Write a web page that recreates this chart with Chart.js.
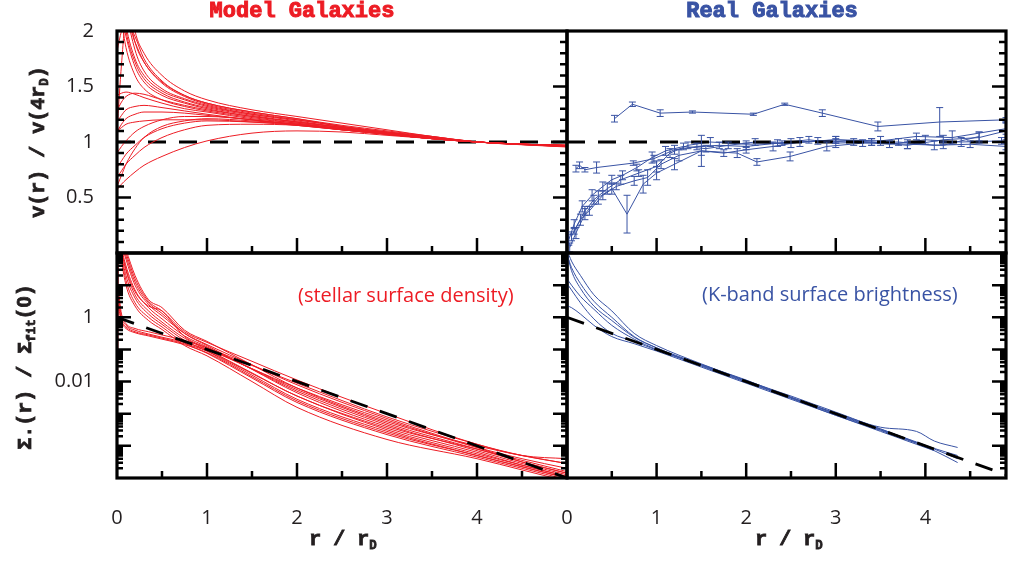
<!DOCTYPE html>
<html>
<head>
<meta charset="utf-8">
<script src="https://cdn.jsdelivr.net/npm/chart.js@4.4.0/dist/chart.umd.min.js"></script>
<style>
  html, body { margin: 0; padding: 0; background: #fff; }
  #wrap { position: relative; width: 1009px; height: 561px; overflow: hidden; }
  canvas { position: absolute; }
  .lbl { position: absolute; white-space: nowrap; line-height: 24px; }
  .head { top: 0; font-family: "Liberation Mono", monospace; font-weight: bold; font-size: 22px; -webkit-text-stroke: 1px currentColor; }
  .axt { font-family: "Liberation Mono", monospace; font-weight: bold; font-size: 20px; color: #231f20; -webkit-text-stroke: 0.8px #231f20; }
  .zero { font-family: "Liberation Sans", sans-serif; }
  .note { font-family: "Open Sans", sans-serif; font-size: 20px; }
  sub { font-size: 0.62em; vertical-align: -0.35em; line-height: 0; }
</style>
</head>
<body>
<div id="wrap">
  <canvas id="velModel" width="607" height="302" style="left:0;top:-9px;width:607px;height:302px"></canvas>
  <canvas id="velReal" width="519" height="302" style="left:527px;top:-9px;width:519px;height:302px"></canvas>
  <canvas id="sigModel" width="607" height="348" style="left:0;top:213px;width:607px;height:348px"></canvas>
  <canvas id="sigReal" width="519" height="348" style="left:527px;top:213px;width:519px;height:348px"></canvas>

  <div class="lbl head" style="left:302px;color:#ed1c24;transform:translateX(-50%)">Model Galaxies</div>
  <div class="lbl head" style="left:772px;color:#3953a4;transform:translateX(-50%)">Real Galaxies</div>
  <div class="lbl axt" style="left:39px;top:142px;transform:translate(-50%,-50%) rotate(-90deg)">v(r) / v(4r<sub>D</sub>)</div>
  <div class="lbl axt" style="left:25px;top:367px;transform:translate(-50%,-50%) rotate(-90deg)">Σ.(r) / Σ<sub>fit</sub>(<span class="zero">0</span>)</div>
  <div class="lbl axt" style="left:343px;top:528px;transform:translateX(-50%)">r / r<sub>D</sub></div>
  <div class="lbl axt" style="left:789px;top:528px;transform:translateX(-50%)">r / r<sub>D</sub></div>
  <div class="lbl note" style="left:298px;top:283px;color:#ed1c24">(stellar surface density)</div>
  <div class="lbl note" style="left:702px;top:282px;color:#3953a4">(K-band surface brightness)</div>
</div>

<script>
// tick labels
const xTickLabels = [0, 1, 2, 3, 4];
const velTickLabels = [0.5, 1, 1.5, 2];
const sigmaTickLabels = [1, 0.01];

// model galaxies, rotation curves v(r)/v(4rD)
const modelVelR = [0, 0.05, 0.1, 0.2, 0.3, 0.5, 0.75, 1, 1.5, 2, 2.5, 3, 3.5, 4, 4.5, 5];
const modelVelCurves = [
  [3.0, 2.8, 2.5, 2.0, 1.8, 1.6, 1.46, 1.38, 1.29, 1.23, 1.17, 1.11, 1.05, 1.0, 0.975, 0.955],
  [2.9, 2.6, 2.3, 1.9, 1.72, 1.54, 1.42, 1.35, 1.27, 1.21, 1.15, 1.1, 1.05, 1.0, 0.977, 0.958],
  [2.7, 2.5, 2.2, 1.83, 1.64, 1.48, 1.39, 1.33, 1.25, 1.2, 1.14, 1.09, 1.04, 1.0, 0.978, 0.96],
  [2.6, 2.35, 2.05, 1.75, 1.6, 1.46, 1.38, 1.32, 1.25, 1.19, 1.13, 1.08, 1.04, 1.0, 0.98, 0.962],
  [2.3, 2.15, 1.95, 1.68, 1.54, 1.42, 1.35, 1.3, 1.23, 1.18, 1.13, 1.08, 1.04, 1.0, 0.98, 0.965],
  [2.5, 2.3, 2.0, 1.72, 1.57, 1.44, 1.36, 1.31, 1.24, 1.18, 1.13, 1.08, 1.04, 1.0, 0.979, 0.962],
  [1.1, 1.7, 2.1, 1.95, 1.75, 1.55, 1.42, 1.35, 1.27, 1.21, 1.14, 1.09, 1.05, 1.0, 0.977, 0.958],
  [1.82, 2.0, 2.1, 1.9, 1.72, 1.53, 1.41, 1.34, 1.26, 1.2, 1.14, 1.09, 1.04, 1.0, 0.978, 0.96],
  [2.4, 2.1, 1.85, 1.6, 1.48, 1.38, 1.32, 1.28, 1.22, 1.17, 1.12, 1.08, 1.04, 1.0, 0.98, 0.966],
  [1.28, 1.36, 1.41, 1.44, 1.43, 1.38, 1.33, 1.29, 1.23, 1.18, 1.13, 1.08, 1.04, 1.0, 0.98, 0.965],
  [1.42, 1.44, 1.45, 1.43, 1.4, 1.35, 1.3, 1.27, 1.21, 1.17, 1.12, 1.08, 1.04, 1.0, 0.98, 0.967],
  [1.18, 1.24, 1.29, 1.32, 1.33, 1.31, 1.28, 1.25, 1.2, 1.16, 1.11, 1.07, 1.03, 1.0, 0.98, 0.968],
  [1.09, 1.16, 1.21, 1.25, 1.27, 1.27, 1.26, 1.24, 1.2, 1.15, 1.11, 1.07, 1.03, 1.0, 0.98, 0.968],
  [1.1, 1.13, 1.16, 1.18, 1.19, 1.2, 1.2, 1.2, 1.18, 1.15, 1.11, 1.07, 1.03, 1.0, 0.98, 0.97],
  [0.57, 0.62, 0.66, 0.73, 0.79, 0.87, 0.95, 1.01, 1.08, 1.1, 1.09, 1.06, 1.03, 1.0, 0.98, 0.97],
  [0.68, 0.74, 0.8, 0.88, 0.95, 1.04, 1.11, 1.15, 1.16, 1.15, 1.11, 1.07, 1.03, 1.0, 0.98, 0.97],
  [0.77, 0.83, 0.89, 0.97, 1.04, 1.12, 1.17, 1.19, 1.18, 1.16, 1.12, 1.07, 1.03, 1.0, 0.98, 0.97],
  [0.9, 0.96, 1.01, 1.09, 1.14, 1.2, 1.23, 1.23, 1.2, 1.16, 1.12, 1.07, 1.03, 1.0, 0.98, 0.97],
  [0.6, 0.7, 0.8, 0.94, 1.04, 1.14, 1.19, 1.21, 1.19, 1.16, 1.11, 1.07, 1.03, 1.0, 0.98, 0.97]
];
const dashVelR = [0, 5];
const dashVel = [1, 1];

// real galaxies, rotation curves with error bars
const realVelR = [
  [0.53, 0.73, 1.04, 1.40, 2.08, 2.43, 2.85, 3.47, 4.16, 4.9],
  [0.1, 0.14, 0.2, 0.33, 0.74, 0.97, 1.2, 1.45, 1.7, 2.0, 2.35, 2.7, 3.0, 3.4, 3.8, 4.2, 4.6, 4.9],
  [0.02, 0.08, 0.17, 0.28, 0.4, 0.5, 0.62, 0.78, 0.95, 1.1, 1.3, 1.55, 1.8, 2.1, 2.4, 2.8, 3.2, 3.6, 4.0, 4.4, 4.85],
  [0.03, 0.1, 0.2, 0.35, 0.5, 0.67, 0.85, 1.0, 1.2, 1.5, 1.9, 2.12, 2.49, 2.9, 3.3, 3.7, 4.1, 4.5, 4.9],
  [0.05, 0.15, 0.25, 0.4, 0.55, 0.75, 0.9, 1.05, 1.25, 1.5, 1.75, 2.0, 2.3, 2.6, 3.0, 3.4, 3.8, 4.2, 4.6],
  [0.08, 0.2, 0.3, 0.45, 0.6, 0.8, 1.0, 1.15, 1.35, 1.6, 2.0, 2.5, 3.0, 3.5, 3.9, 4.3, 4.9]
];
const realVelV = [
  [1.21, 1.34, 1.26, 1.27, 1.25, 1.34, 1.26, 1.14, 1.18, 1.2],
  [0.76, 0.79, 0.75, 0.77, 0.81, 0.85, 0.93, 0.96, 0.97, 0.96, 0.99, 1.02, 0.99, 1.0, 0.97, 1.02, 1.04, 1.1],
  [0.12, 0.26, 0.42, 0.52, 0.6, 0.66, 0.7, 0.77, 0.86, 0.92, 0.96, 0.94, 0.97, 1.0, 0.99, 1.01, 1.0, 0.98, 1.02, 1.0, 1.01],
  [0.05, 0.18, 0.35, 0.5, 0.58, 0.35, 0.62, 0.72, 0.8, 0.92, 0.9, 0.82, 0.87, 0.96, 0.99, 1.0, 0.97, 0.98, 0.96],
  [0.15, 0.3, 0.38, 0.52, 0.6, 0.65, 0.68, 0.8, 0.88, 0.92, 0.9, 0.93, 0.96, 1.0, 1.02, 1.0, 0.98, 0.97, 1.05],
  [0.2, 0.38, 0.48, 0.58, 0.66, 0.72, 0.78, 0.9, 0.97, 1.0, 0.98, 0.99, 1.02, 1.01, 1.05, 1.04, 1.12]
];
const realVelErr = [
  [0.03, 0.02, 0.03, 0.01, 0.01, 0.01, 0.03, 0.04, 0.13, 0.02],
  [0.03, 0.03, 0.02, 0.05, 0.02, 0.03, 0.04, 0.03, 0.03, 0.03, 0.03, 0.03, 0.04, 0.03, 0.03, 0.04, 0.05, 0.08],
  [0.05, 0.04, 0.05, 0.05, 0.04, 0.04, 0.04, 0.03, 0.05, 0.04, 0.03, 0.03, 0.03, 0.03, 0.02, 0.03, 0.03, 0.03, 0.04, 0.04, 0.03],
  [0.04, 0.05, 0.05, 0.06, 0.05, 0.17, 0.08, 0.06, 0.05, 0.14, 0.04, 0.03, 0.04, 0.04, 0.03, 0.03, 0.04, 0.03, 0.03],
  [0.04, 0.05, 0.04, 0.04, 0.03, 0.04, 0.07, 0.04, 0.05, 0.04, 0.03, 0.03, 0.04, 0.04, 0.03, 0.03, 0.04, 0.03, 0.04],
  [0.03, 0.04, 0.04, 0.05, 0.04, 0.03, 0.05, 0.04, 0.03, 0.04, 0.03, 0.04, 0.03, 0.04, 0.03, 0.06, 0.05]
];
const dashRealVelR = [0, 4.9];
const dashRealVel = [1, 1];

// model galaxies, stellar surface density (normalised)
const modelSigR = [0, 0.01, 0.05, 0.1, 0.2, 0.35, 0.5, 0.75, 1, 1.5, 2, 3, 4, 4.5, 5];
const modelSigCurves = [
  [1e-8, 1000, 251, 100, 15.8, 3.16, 1.58, 0.355, 0.166, 0.0427, 0.0112, 1e-3, 1.12e-4, 5.01e-5, 3.98e-5],
  [1e-8, 1000, 200, 63.1, 10, 2.51, 1.12, 0.316, 0.141, 0.0331, 7.94e-3, 7.08e-4, 8.91e-5, 3.16e-5, 1.41e-5],
  [1e-8, 1000, 158, 39.8, 7.08, 2.0, 0.891, 0.263, 0.12, 0.0245, 5.01e-3, 4.47e-4, 7.08e-5, 2.82e-5, 1.26e-5],
  [1e-8, 1000, 126, 28.2, 5.01, 1.58, 0.708, 0.224, 0.1, 0.0186, 3.55e-3, 3.55e-4, 6.31e-5, 2.51e-5, 1.12e-5],
  [1e-8, 1000, 100, 20, 3.98, 1.26, 0.603, 0.191, 0.0891, 0.0158, 2.82e-3, 2.82e-4, 5.01e-5, 2.24e-5, 1e-5],
  [1e-8, 1000, 79.4, 14.1, 2.82, 1.0, 0.501, 0.158, 0.0759, 0.0129, 2.24e-3, 2.24e-4, 4.47e-5, 2.0e-5, 8.91e-6],
  [1e-8, 1000, 316, 126, 20, 3.55, 2.0, 0.398, 0.178, 0.0331, 6.31e-3, 5.62e-4, 1e-4, 5.01e-5, 2.82e-5],
  [1e-8, 1000, 63.1, 10, 2.24, 0.794, 0.417, 0.132, 0.0631, 0.01, 1.58e-3, 1.58e-4, 3.98e-5, 1.78e-5, 7.94e-6],
  [1e-8, 1000, 224, 79.4, 12.6, 2.82, 1.32, 0.316, 0.132, 0.024, 4.47e-3, 3.98e-4, 7.94e-5, 3.55e-5, 1.58e-5],
  [1e-8, 1000, 141, 31.6, 6.31, 2.24, 1.58, 0.251, 0.112, 0.0251, 5.62e-3, 5.01e-4, 7.94e-5, 3.16e-5, 1.41e-5],
  [1e-8, 3.98, 1.0, 0.562, 0.398, 0.302, 0.24, 0.166, 0.1, 0.0251, 6.31e-3, 6.31e-4, 8.91e-5, 3.98e-5, 2.0e-5],
  [1e-8, 2.51, 0.794, 0.501, 0.355, 0.282, 0.224, 0.151, 0.0891, 0.0178, 3.55e-3, 3.16e-4, 5.62e-5, 2.51e-5, 1.12e-5],
  [1e-8, 6.31, 1.26, 0.631, 0.447, 0.355, 0.282, 0.191, 0.112, 0.0316, 8.91e-3, 7.94e-4, 1.12e-4, 5.01e-5, 2.82e-5],
  [1e-8, 2.0, 0.708, 0.447, 0.331, 0.263, 0.209, 0.141, 0.0794, 0.0141, 2.51e-3, 2.51e-4, 5.01e-5, 2.24e-5, 1e-5]
];
const dashSigR = [0, 5];
const dashSig = [1, 1e-5];

// real galaxies, K-band surface brightness (normalised)
const realSigR = [0, 0.05, 0.15, 0.3, 0.5, 0.75, 1, 1.5, 2, 2.5, 3, 3.5, 3.9, 4.1, 4.36];
const realSigCurves = [
  [126, 56.2, 20, 5.01, 1.58, 0.316, 0.132, 0.0355, 0.0107, 3.55e-3, 1.12e-3, 3.8e-4, 2.82e-4, 1.41e-4, 8.91e-5],
  [89.1, 35.5, 11.2, 3.16, 1.0, 0.251, 0.112, 0.0302, 9.55e-3, 3.02e-3, 8.91e-4, 3.02e-4, 1.2e-4, 7.08e-5, 3.02e-5],
  [15.8, 10, 4.47, 1.78, 0.562, 0.209, 0.1, 0.0331, 0.0105, 3.31e-3, 1e-3, 3.31e-4, 1.32e-4, 8.32e-5, 5.01e-5],
  [2.29, 2.0, 1.26, 0.562, 0.251, 0.151, 0.0891, 0.0282, 8.91e-3, 2.82e-3, 8.91e-4, 2.82e-4, 1.12e-4, 7.08e-5, null],
  [11.2, 7.08, 2.82, 0.891, 0.316, 0.178, 0.0955, 0.0316, 0.01, 3.16e-3, 9.55e-4, 3.16e-4, 1.26e-4, null, null],
  [100, 28.2, 7.94, 2.24, 0.794, 0.24, 0.112, 0.0339, 0.0112, 3.16e-3, 1.05e-3, 3.39e-4, 1.26e-4, 7.94e-5, 3.98e-5]
];
const dashRealSigR = [0, 4.9];
const dashRealSig = [1, 1.26e-5];

const RED = '#ed1c24';
const BLUE = '#3953a4';
const INK = '#231f20';
const tickFont = { family: 'Open Sans', size: 20 };

const xMajor = [1, 2, 3, 4];
const xMinor = [0.5, 1.5, 2.5, 3.5, 4.5];
const velMajor = [0.5, 1, 1.5];
const velMinor = [];
for (let i = 1; i < 20; i++) if (i % 5) velMinor.push(i / 10);
const sigMajor = [1e-4, 1e-3, 1e-2, 0.1, 1, 10];
const sigMinor = [];
for (let e = -5; e < 2; e++) for (let k = 2; k < 10; k++) sigMinor.push(k * Math.pow(10, e));

function line(xs, ys, color, extra) {
  const data = xs.map((x, i) => ({ x: x, y: ys[i] })).filter(p => p.y != null);
  return Object.assign({
    data: data, borderColor: color, borderWidth: 1, pointRadius: 0,
    fill: false, clip: 0, cubicInterpolationMode: 'monotone', order: 1
  }, extra || {});
}

function dashed(xs, ys, order) {
  return line(xs, ys, '#000', { borderWidth: 2.8, borderDash: [18, 13], cubicInterpolationMode: 'default', tension: 0, order: order });
}

// frame, inward ticks and error bars
const panelDeco = {
  id: 'panelDeco',
  afterDatasetsDraw(chart, args, o) {
    const { ctx, chartArea: a, scales } = chart;
    const xs = scales.x, ys = scales.y;
    ctx.save();
    ctx.beginPath();
    ctx.rect(a.left, a.top, a.width, a.height);
    ctx.clip();
    chart.data.datasets.forEach(ds => {
      if (!ds.errs) return;
      ctx.strokeStyle = ds.borderColor;
      ctx.lineWidth = 1;
      ctx.beginPath();
      ds.data.forEach((p, i) => {
        const px = xs.getPixelForValue(p.x);
        const y1 = ys.getPixelForValue(p.y - ds.errs[i]);
        const y2 = ys.getPixelForValue(p.y + ds.errs[i]);
        ctx.moveTo(px, y1); ctx.lineTo(px, y2);
        ctx.moveTo(px - 3.5, y1); ctx.lineTo(px + 3.5, y1);
        ctx.moveTo(px - 3.5, y2); ctx.lineTo(px + 3.5, y2);
      });
      ctx.stroke();
    });
    ctx.restore();

    ctx.save();
    ctx.strokeStyle = '#000';
    ctx.lineWidth = 2.5;
    ctx.beginPath();
    o.xMajor.forEach(v => { const p = xs.getPixelForValue(v); ctx.moveTo(p, a.bottom); ctx.lineTo(p, a.bottom - 15); });
    o.xMinor.forEach(v => { const p = xs.getPixelForValue(v); ctx.moveTo(p, a.bottom); ctx.lineTo(p, a.bottom - 7); });
    const yTick = (v, len) => {
      const p = ys.getPixelForValue(v);
      if (p < a.top || p > a.bottom) return;
      if (o.left) { ctx.moveTo(a.left, p); ctx.lineTo(a.left + len, p); }
      ctx.moveTo(a.right, p); ctx.lineTo(a.right - len, p);
    };
    o.yMajor.forEach(v => yTick(v, 14));
    o.yMinor.forEach(v => yTick(v, o.minorLen));
    ctx.stroke();
    ctx.lineWidth = 3.2;
    ctx.strokeRect(a.left, a.top, a.width, a.height);
    ctx.restore();
  }
};

// every canvas keeps a wide margin round its plot area so that the
// label overflow Chart.js reserves never moves the plot area itself
function makePanel(id, cfg) {
  const yScale = {
    type: cfg.log ? 'logarithmic' : 'linear',
    min: cfg.yMin, max: cfg.yMax,
    grid: { display: false }, border: { display: false },
    ticks: { display: cfg.yLabels.length > 0, padding: 15, font: tickFont, color: INK, autoSkip: false,
             callback: v => String(v) },
    afterBuildTicks: s => { s.ticks = cfg.yLabels.map(v => ({ value: v })); },
    afterFit: s => { s.width = cfg.yW; }
  };
  const xScale = {
    type: 'linear', min: 0, max: cfg.xMax,
    grid: { display: false }, border: { display: false },
    ticks: { display: cfg.xLabels, padding: 20, font: tickFont, color: INK, autoSkip: false, maxRotation: 0,
             callback: v => String(v) },
    afterBuildTicks: s => { s.ticks = xTickLabels.map(v => ({ value: v })); },
    afterFit: s => { s.height = cfg.xH; }
  };
  return new Chart(document.getElementById(id), {
    type: 'line',
    data: { datasets: cfg.datasets },
    options: {
      responsive: false, animation: false, devicePixelRatio: 1,
      layout: { padding: cfg.pad },
      scales: { x: xScale, y: yScale },
      plugins: {
        legend: { display: false }, tooltip: { enabled: false },
        panelDeco: { xMajor: xMajor, xMinor: xMinor, yMajor: cfg.yMajor, yMinor: cfg.yMinor, left: cfg.leftTicks, minorLen: cfg.minorLen }
      }
    },
    plugins: [panelDeco]
  });
}

// top left: plot area 117..567 x 31..253
makePanel('velModel', {
  datasets: [dashed(dashVelR, dashVel, 3)].concat(modelVelCurves.map(c => line(modelVelR, c, RED))),
  yMin: 0, yMax: 2, xMax: 5, yLabels: velTickLabels, xLabels: false,
  yW: 117, xH: 10, pad: { top: 40, right: 40, bottom: 30, left: 0 },
  yMajor: velMajor, yMinor: velMinor, leftTicks: true, minorLen: 7
});

// top right: plot area 567..1006 x 31..253
makePanel('velReal', {
  datasets: [dashed(dashRealVelR, dashRealVel, 0)].concat(realVelR.map((xs, i) =>
    Object.assign(line(xs, realVelV[i], BLUE, { cubicInterpolationMode: 'default', tension: 0 }), { errs: realVelErr[i] }))),
  yMin: 0, yMax: 2, xMax: 4.9, yLabels: [], xLabels: false,
  yW: 10, xH: 10, pad: { top: 40, right: 40, bottom: 30, left: 30 },
  yMajor: velMajor, yMinor: velMinor, leftTicks: false, minorLen: 7
});

// bottom left: plot area 117..567 x 253..478
makePanel('sigModel', {
  datasets: [dashed(dashSigR, dashSig, 0)].concat(modelSigCurves.map(c => line(modelSigR, c, RED))),
  log: true, yMin: 1e-5, yMax: 100, xMax: 5, yLabels: sigmaTickLabels, xLabels: true,
  yW: 117, xH: 83, pad: { top: 40, right: 40, bottom: 0, left: 0 },
  yMajor: sigMajor, yMinor: sigMinor, leftTicks: true, minorLen: 6
});

// bottom right: plot area 567..1006 x 253..478
makePanel('sigReal', {
  datasets: [dashed(dashRealSigR, dashRealSig, 0)].concat(realSigCurves.map(c => line(realSigR, c, BLUE))),
  log: true, yMin: 1e-5, yMax: 100, xMax: 4.9, yLabels: [], xLabels: true,
  yW: 10, xH: 83, pad: { top: 40, right: 40, bottom: 0, left: 30 },
  yMajor: sigMajor, yMinor: sigMinor, leftTicks: false, minorLen: 6
});
</script>
</body>
</html>
